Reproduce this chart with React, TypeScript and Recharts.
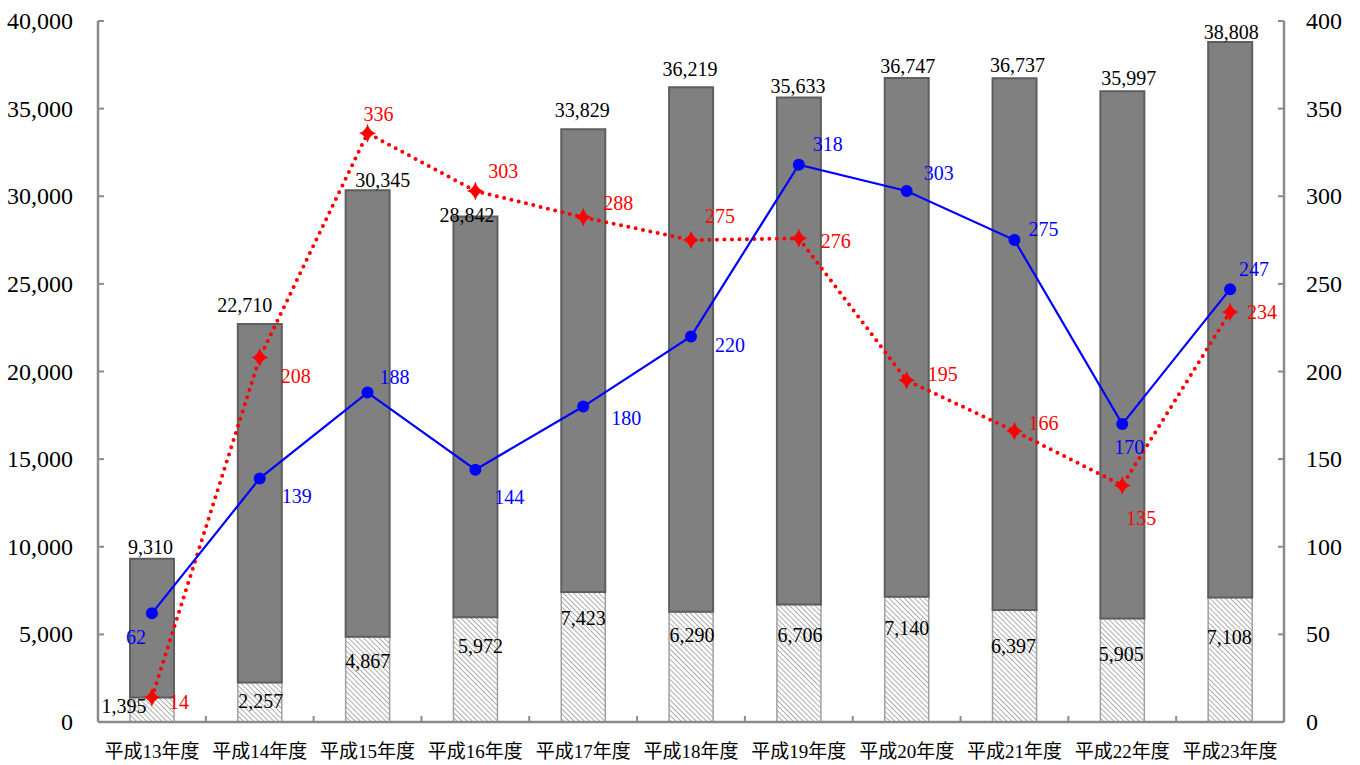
import React from 'react';
import { ComposedChart, Bar, Line, XAxis, YAxis, LabelList } from 'recharts';

// Fiscal years (Heisei 13 – 23)
const categories = ['平成13年度', '平成14年度', '平成15年度', '平成16年度', '平成17年度', '平成18年度', '平成19年度', '平成20年度', '平成21年度', '平成22年度', '平成23年度'];
// Bar totals (left axis)
const totalCounts = [9310, 22710, 30345, 28842, 33829, 36219, 35633, 36747, 36737, 35997, 38808];
// Hatched lower segment of each bar (left axis)
const hatchedCounts = [1395, 2257, 4867, 5972, 7423, 6290, 6706, 7140, 6397, 5905, 7108];
// Line series (right axis)
const blueSeries = [62, 139, 188, 144, 180, 220, 318, 303, 275, 170, 247];
const redSeries = [14, 208, 336, 303, 288, 275, 276, 195, 166, 135, 234];
// Axis ticks
const leftTicks = [0, 5000, 10000, 15000, 20000, 25000, 30000, 35000, 40000];
const rightTicks = [0, 50, 100, 150, 200, 250, 300, 350, 400];

// Label placement tweaks (pixels)
const topLabelLift = [12, 19, 10, 2, 19.5, 18.7, 12, 12, 13, 13.5, 10];
const topLabelShiftX = [-1.5, -15, 15, -8.5, -1, -1, -1, 1, 3, 6.5, 1];
const lowLabelDrop = [8, 19, 24, 29, 26, 23, 31, 31, 36, 35.5, 40];
const lowLabelShiftX = [-28, 1, 0, 5, 0, 1, 1, 0, -1, -1, -1];
const blueLabelDx = [-16, 37, 27, 34, 43, 39, 29, 32, 29, 7, 24];
const blueLabelDy = [24, 18, -16, 27, 11, 9, -21, -18, -11, 23, -20];
const redLabelDx = [27, 36, 11, 28, 35, 29, 37, 36, 29, 19, 32];
const redLabelDy = [5, 19, -19, -20, -14, -24, 3, -6, -8, 33, 0];

const fmt = (v: number) => v.toLocaleString('en-US');

const data = categories.map((name, i) => ({
  name,
  lower: hatchedCounts[i],
  upper: totalCounts[i] - hatchedCounts[i],
  total: totalCounts[i],
  blue: blueSeries[i],
  red: redSeries[i],
}));

const FONT = "'Liberation Serif', 'Noto Sans CJK JP', serif";
const AXIS_COLOR = '#8a8a8a';
const CHART_W = 1360;
const CHART_H = 765;
const LEFT_W = 98;
const RIGHT_W = 76;
const BAND = (CHART_W - LEFT_W - RIGHT_W) / categories.length;

const LeftTick = (props: any) => {
  const { x, y, payload } = props;
  return (
    <g>
      <line x1={x} x2={x + 6} y1={y} y2={y} stroke={AXIS_COLOR} strokeWidth={2} />
      <text x={x - 25} y={y} textAnchor="end" dominantBaseline="central" fontFamily={FONT} fontSize={24} fill="#000">
        {fmt(payload.value)}
      </text>
    </g>
  );
};

const RightTick = (props: any) => {
  const { x, y, payload } = props;
  return (
    <g>
      <line x1={x} x2={x - 6} y1={y} y2={y} stroke={AXIS_COLOR} strokeWidth={2} />
      <text x={x + 22} y={y} textAnchor="start" dominantBaseline="central" fontFamily={FONT} fontSize={24} fill="#000">
        {payload.value}
      </text>
    </g>
  );
};

const BottomTick = (props: any) => {
  const { x, y, payload } = props;
  return (
    <g>
      <line x1={x + BAND / 2} x2={x + BAND / 2} y1={y} y2={y - 6} stroke={AXIS_COLOR} strokeWidth={2} />
      <text x={x} y={y + 29} textAnchor="middle" dominantBaseline="central" fontFamily={FONT} fontSize={19} fill="#000">
        {payload.value}
      </text>
    </g>
  );
};

const Diamond = (props: any) => {
  const { cx, cy, index } = props;
  if (cx == null || cy == null) return <g key={`d-${index}`} />;
  const d = `M${cx},${cy - 9.5} Q${cx + 2},${cy - 2} ${cx + 8.5},${cy} Q${cx + 2},${cy + 2} ${cx},${cy + 9.5} Q${cx - 2},${cy + 2} ${cx - 8.5},${cy} Q${cx - 2},${cy - 2} ${cx},${cy - 9.5} Z`;
  return <path key={`d-${index}`} d={d} fill="#ff0000" stroke="none" />;
};

const TopLabel = (props: any) => {
  const { x, y, width, index } = props;
  return (
    <text x={x + width / 2 + topLabelShiftX[index]} y={y - topLabelLift[index]} textAnchor="middle" dominantBaseline="central" fontFamily={FONT} fontSize={20} fill="#000">
      {fmt(totalCounts[index])}
    </text>
  );
};

const LowLabel = (props: any) => {
  const { x, y, width, index } = props;
  return (
    <text x={x + width / 2 + lowLabelShiftX[index]} y={y + lowLabelDrop[index]} textAnchor="middle" dominantBaseline="central" fontFamily={FONT} fontSize={20} fill="#000">
      {fmt(hatchedCounts[index])}
    </text>
  );
};

const BlueLabel = (props: any) => {
  const { x, y, index } = props;
  return (
    <text x={x + blueLabelDx[index]} y={y + blueLabelDy[index]} textAnchor="middle" dominantBaseline="central" fontFamily={FONT} fontSize={20} fill="#0000ff">
      {blueSeries[index]}
    </text>
  );
};

const RedLabel = (props: any) => {
  const { x, y, index } = props;
  return (
    <text x={x + redLabelDx[index]} y={y + redLabelDy[index]} textAnchor="middle" dominantBaseline="central" fontFamily={FONT} fontSize={20} fill="#ff0000">
      {redSeries[index]}
    </text>
  );
};

export default function App() {
  return (
    <div style={{ position: 'absolute', left: 0, top: 0, width: CHART_W, height: CHART_H, background: '#fff' }}>
      <ComposedChart width={CHART_W} height={CHART_H} data={data} margin={{ top: 21, right: 0, bottom: 0, left: 0 }}>
        <defs>
          <pattern id="hatch" width={3.6} height={3.6} patternUnits="userSpaceOnUse" patternTransform="rotate(-45)">
            <rect width={3.6} height={3.6} fill="#ffffff" />
            <line x1={0} y1={0} x2={0} y2={3.6} stroke="#7a7a7a" strokeWidth={1.2} />
          </pattern>
        </defs>
        <XAxis
          dataKey="name"
          height={43}
          axisLine={{ stroke: AXIS_COLOR, strokeWidth: 2.5 }}
          tickLine={false}
          tickSize={0}
          tickMargin={0}
          interval={0}
          tick={<BottomTick />}
        />
        <YAxis
          yAxisId="left"
          width={LEFT_W}
          domain={[0, 40000]}
          ticks={leftTicks}
          axisLine={{ stroke: AXIS_COLOR, strokeWidth: 2.5 }}
          tickLine={false}
          tickSize={0}
          tickMargin={0}
          interval={0}
          tick={<LeftTick />}
        />
        <YAxis
          yAxisId="right"
          orientation="right"
          width={RIGHT_W}
          domain={[0, 400]}
          ticks={rightTicks}
          axisLine={{ stroke: AXIS_COLOR, strokeWidth: 2.5 }}
          tickLine={false}
          tickSize={0}
          tickMargin={0}
          interval={0}
          tick={<RightTick />}
        />
        <Bar yAxisId="left" dataKey="lower" stackId="a" barSize={44} fill="url(#hatch)" stroke="#a0a0a0" strokeWidth={1.5} isAnimationActive={false}>
          <LabelList dataKey="lower" content={<LowLabel />} />
        </Bar>
        <Bar yAxisId="left" dataKey="upper" stackId="a" barSize={44} fill="#808080" stroke="#5e5e5e" strokeWidth={2} isAnimationActive={false}>
          <LabelList dataKey="total" content={<TopLabel />} />
        </Bar>
        <Line
          yAxisId="right"
          dataKey="red"
          stroke="#ff0000"
          strokeWidth={4}
          strokeDasharray="0 7.5"
          strokeLinecap="round"
          dot={(p: any) => <Diamond {...p} key={`d-${p.index}`} />}
          activeDot={false}
          isAnimationActive={false}
        >
          <LabelList dataKey="red" content={<RedLabel />} />
        </Line>
        <Line
          yAxisId="right"
          dataKey="blue"
          stroke="#0000ff"
          strokeWidth={2.2}
          dot={{ r: 6, fill: '#0000ff', stroke: '#0000ff', strokeWidth: 0 }}
          activeDot={false}
          isAnimationActive={false}
        >
          <LabelList dataKey="blue" content={<BlueLabel />} />
        </Line>
      </ComposedChart>
    </div>
  );
}
